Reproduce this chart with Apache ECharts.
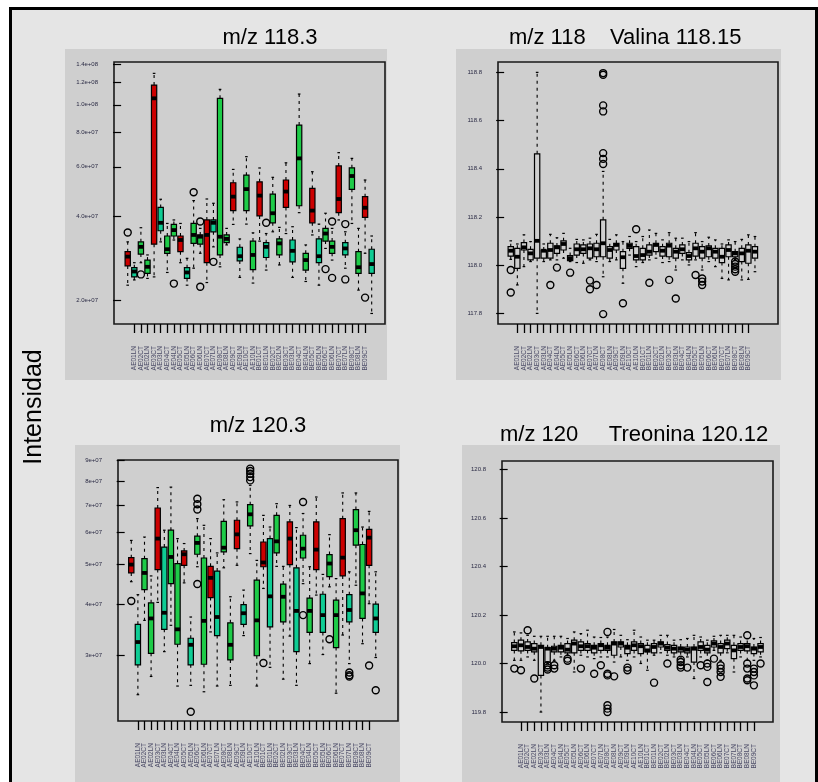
<!DOCTYPE html>
<html>
<head>
<meta charset="utf-8">
<script src="https://cdn.jsdelivr.net/npm/echarts@6/dist/echarts.min.js"></script>
<style>
html, body { margin: 0; padding: 0; background: #fff; }
#chart { width: 818px; height: 782px; }
</style>
</head>
<body>
<div id="chart"></div>
<script>
// sample names along every x axis (same 38 samples in all four panels)
const sampleLabels = [
	'AE01CT','AE01LN','AE02CT','AE02LN','AE03CT','AE03LN','AE04CT','AE04LN','AE05CT','AE05LN',
	'AE06CT','AE06LN','AE07CT','AE07LN','AE08CT','AE08LN','AE09CT','AE09LN','AE10CT','AE10LN',
	'BE01CT','BE01LN','BE02CT','BE02LN','BE03CT','BE03LN','BE04CT','BE04LN','BE05CT','BE05LN',
	'BE06CT','BE06LN','BE07CT','BE07LN','BE08CT','BE08LN','BE09CT','BE09LN'
];
// group of each sample (R = red, T = teal, G = green) for the coloured panels
const boxGroups = ['R','T','G','G','R','T','G','G','R','T','G','G','R','T','G','G','R','T','G','G',
	'R','T','G','G','R','T','G','G','R','T','G','G','R','T','G','G','R','T'];

// m/z 118.3 : [min, q1, median, q3, max]
const p1Boxes = [
	[2.26e7,2.65e7,2.86e7,2.98e7,3.23e7],[2.36e7,2.42e7,2.53e7,2.61e7,2.72e7],[2.72e7,2.92e7,3.10e7,3.23e7,3.63e7],
	[2.39e7,2.49e7,2.63e7,2.78e7,2.90e7],[2.42e7,3.17e7,1.055e8,1.177e8,1.296e8],[3.23e7,3.54e7,3.78e7,4.29e7,4.59e7],
	[2.51e7,2.94e7,3.04e7,3.39e7,3.76e7],[3.28e7,3.39e7,3.56e7,3.73e7,3.87e7],[2.72e7,2.98e7,3.28e7,3.39e7,3.76e7],
	[2.26e7,2.39e7,2.51e7,2.61e7,2.82e7],[2.60e7,3.19e7,3.42e7,3.76e7,4.54e7],[2.94e7,3.17e7,3.37e7,3.42e7,3.61e7],
	[2.31e7,2.72e7,3.42e7,3.87e7,4.60e7],[3.10e7,3.51e7,3.78e7,3.87e7,4.44e7],[2.63e7,2.90e7,3.37e7,1.055e8,1.136e8],
	[3.15e7,3.21e7,3.31e7,3.42e7,3.61e7],[3.73e7,4.18e7,4.69e7,5.26e7,5.87e7],[2.41e7,2.76e7,2.87e7,3.09e7,3.31e7],
	[3.74e7,4.18e7,4.99e7,5.60e7,6.52e7],[2.30e7,2.57e7,2.90e7,3.25e7,3.48e7],[3.25e7,4.00e7,4.73e7,5.30e7,5.94e7],
	[2.56e7,2.84e7,3.10e7,3.21e7,3.46e7],[3.51e7,3.78e7,4.09e7,4.79e7,5.50e7],[2.67e7,2.90e7,3.19e7,3.31e7,3.64e7],
	[3.46e7,4.29e7,4.89e7,5.38e7,6.20e7],[2.41e7,2.74e7,3.00e7,3.28e7,3.66e7],[4.11e7,4.35e7,6.43e7,8.46e7,1.093e8],
	[2.33e7,2.56e7,2.78e7,2.94e7,3.15e7],[3.42e7,3.78e7,4.18e7,5.02e7,5.76e7],[2.26e7,2.72e7,2.87e7,3.31e7,3.74e7],
	[3.06e7,3.25e7,3.46e7,3.61e7,4.09e7],[2.78e7,2.94e7,3.10e7,3.25e7,3.61e7],[3.87e7,4.11e7,4.60e7,6.04e7,6.74e7],
	[2.60e7,2.90e7,3.06e7,3.21e7,3.51e7],[3.76e7,4.98e7,5.56e7,5.95e7,6.43e7],[2.17e7,2.49e7,2.62e7,2.98e7,3.61e7],
	[2.94e7,3.95e7,4.28e7,4.69e7,5.38e7],[1.79e7,2.49e7,2.69e7,3.04e7,3.39e7]
];
const p1Outliers = [[1,3.49e7],[3,2.47e7],[8,2.29e7],[11,4.86e7],[12,3.82e7],[12,2.23e7],[14,2.74e7],
	[22,3.78e7],[31,2.58e7],[32,3.82e7],[32,2.40e7],[34,3.74e7],[34,2.37e7],[37,2.04e7]];
const p1Ticks = [2e7,4e7,6e7,8e7,1e8,1.2e8,1.4e8];
const p1TickLabels = ['2.0e+07','4.0e+07','6.0e+07','8.0e+07','1.0e+08','1.2e+08','1.4e+08'];

// m/z 118 Valina 118.15
const p2Boxes = [
	[118.024,118.038,118.060,118.077,118.101],[117.918,117.987,118.035,118.070,118.088],[117.994,118.063,118.074,118.094,118.126],
	[118.015,118.022,118.049,118.066,118.098],[117.800,118.029,118.101,118.462,118.800],[118.015,118.029,118.060,118.063,118.088],
	[118.022,118.029,118.063,118.091,118.128],[118.022,118.049,118.074,118.080,118.114],[118.029,118.063,118.088,118.101,118.132],
	[118.015,118.019,118.029,118.040,118.070],[118.011,118.042,118.066,118.088,118.107],[118.008,118.049,118.066,118.084,118.105],
	[118.022,118.029,118.070,118.088,118.112],[118.015,118.035,118.066,118.091,118.128],[117.952,118.035,118.091,118.188,118.389],
	[118.015,118.029,118.063,118.077,118.107],[118.022,118.063,118.084,118.091,118.126],[117.925,117.987,118.033,118.056,118.098],
	[118.042,118.070,118.080,118.091,118.119],[117.994,118.022,118.038,118.077,118.098],[118.011,118.022,118.042,118.070,118.119],
	[118.022,118.042,118.056,118.084,118.146],[118.029,118.056,118.084,118.091,118.132],[118.011,118.038,118.060,118.077,118.105],
	[118.015,118.035,118.081,118.091,118.135],[117.980,118.029,118.056,118.070,118.112],[118.022,118.049,118.066,118.084,118.112],
	[118.001,118.022,118.038,118.052,118.098],[118.022,118.038,118.070,118.091,118.135],[117.980,118.029,118.056,118.077,118.098],
	[118.015,118.035,118.070,118.080,118.116],[117.994,118.029,118.056,118.070,118.105],[117.945,118.011,118.035,118.070,118.088],
	[117.939,118.035,118.063,118.084,118.105],[118.024,118.035,118.049,118.056,118.098],[117.939,118.015,118.049,118.070,118.107],
	[117.941,118.008,118.060,118.084,118.126],[117.973,118.029,118.056,118.077,118.119]
];
const p2Outliers = [[1,117.980],[1,117.887],[7,117.918],[8,117.990],[10,117.969],[13,117.936],[13,117.900],[14,117.918],
	[15,118.797],[15,118.790],[15,118.663],[15,118.638],[15,118.465],[15,118.441],[15,118.420],[15,117.797],
	[18,117.842],[20,118.149],[22,117.927],[25,117.939],[26,117.862],[29,117.959],[30,117.945],[30,117.932],[30,117.918],
	[35,118.015],[35,118.005],[35,117.994],[35,117.983],[35,117.973]];
const p2Ticks = [117.8,118.0,118.2,118.4,118.6,118.8];

// m/z 120.3
const p3Boxes = [
	[4.54e7,4.77e7,5.00e7,5.20e7,5.73e7],[2.40e7,2.84e7,3.23e7,3.57e7,4.22e7],[3.65e7,4.34e7,4.77e7,5.17e7,5.84e7],
	[2.66e7,3.03e7,3.69e7,4.03e7,4.69e7],[4.04e7,4.86e7,5.79e7,6.88e7,7.72e7],[3.06e7,3.47e7,3.81e7,5.52e7,6.07e7],
	[3.55e7,4.49e7,5.22e7,6.07e7,7.74e7],[2.52e7,3.19e7,3.47e7,5.03e7,5.79e7],[4.51e7,4.98e7,5.30e7,5.40e7,5.63e7],
	[2.53e7,2.84e7,3.18e7,3.30e7,3.72e7],[4.94e7,5.30e7,5.65e7,5.87e7,6.48e7],[2.44e7,2.85e7,3.64e7,5.19e7,6.24e7],
	[3.42e7,4.15e7,4.64e7,4.95e7,5.79e7],[2.52e7,3.35e7,3.72e7,4.82e7,5.34e7],[4.91e7,5.37e7,5.50e7,6.38e7,7.21e7],
	[2.53e7,2.92e7,3.18e7,3.60e7,4.17e7],[4.98e7,5.47e7,5.93e7,6.42e7,7.12e7],[3.35e7,3.57e7,3.80e7,3.99e7,4.33e7],
	[5.32e7,6.22e7,6.64e7,7.01e7,7.82e7],[2.52e7,2.99e7,3.65e7,4.58e7,5.12e7],[4.37e7,4.94e7,5.06e7,5.68e7,6.60e7],
	[2.80e7,3.52e7,4.18e7,5.79e7,6.18e7],[4.95e7,5.34e7,5.70e7,6.60e7,7.05e7],[2.62e7,3.62e7,4.17e7,4.48e7,4.95e7],
	[3.34e7,5.00e7,5.79e7,6.36e7,6.98e7],[2.53e7,3.06e7,3.85e7,4.91e7,6.16e7],[4.49e7,5.19e7,5.47e7,5.90e7,6.67e7],
	[2.86e7,3.41e7,3.85e7,4.14e7,4.94e7],[4.21e7,4.86e7,5.44e7,6.36e7,7.32e7],[3.01e7,3.41e7,3.76e7,4.23e7,4.73e7],
	[4.41e7,4.67e7,5.03e7,5.29e7,5.92e7],[2.42e7,3.13e7,3.76e7,4.09e7,4.62e7],[3.36e7,4.69e7,5.20e7,6.48e7,7.49e7],
	[2.86e7,3.62e7,3.87e7,4.22e7,4.80e7],[4.45e7,5.58e7,6.07e7,6.82e7,7.49e7],[3.20e7,3.69e7,4.25e7,5.60e7,6.18e7],
	[4.01e7,4.98e7,5.82e7,6.10e7,6.75e7],[2.96e7,3.41e7,3.69e7,4.00e7,4.80e7]
];
const p3Outliers = [[1,4.07e7],[10,2.18e7],[11,7.25e7],[11,7.03e7],[11,6.82e7],[11,4.48e7],[19,8.59e7],[19,8.48e7],
	[19,8.35e7],[19,8.19e7],[19,8.04e7],[21,2.87e7],[27,7.12e7],[27,3.76e7],[31,3.28e7],[34,2.72e7],[34,2.68e7],
	[34,2.66e7],[37,2.83e7],[38,2.46e7]];
const p3Ticks = [3e7,4e7,5e7,6e7,7e7,8e7,9e7];
const p3TickLabels = ['3e+07','4e+07','5e+07','6e+07','7e+07','8e+07','9e+07'];

// m/z 120 Treonina 120.12
const p4Boxes = [
	[120.014,120.055,120.072,120.087,120.131],[120.014,120.053,120.076,120.097,120.127],[120.028,120.055,120.069,120.090,120.117],
	[120.014,120.049,120.062,120.083,120.113],[119.801,119.952,120.069,120.076,120.113],[120.001,120.007,120.062,120.066,120.113],
	[120.014,120.049,120.062,120.072,120.113],[120.028,120.049,120.066,120.076,120.113],[120.035,120.045,120.058,120.083,120.104],
	[119.966,120.045,120.083,120.097,120.131],[120.035,120.055,120.072,120.090,120.124],[120.028,120.055,120.072,120.083,120.138],
	[120.021,120.045,120.066,120.076,120.110],[120.028,120.055,120.076,120.083,120.108],[120.028,120.055,120.066,120.076,120.110],
	[120.007,120.035,120.083,120.090,120.141],[120.028,120.069,120.083,120.090,120.117],[120.014,120.042,120.066,120.076,120.099],
	[120.028,120.055,120.076,120.090,120.138],[120.001,120.042,120.072,120.083,120.110],[119.973,120.049,120.055,120.076,120.097],
	[120.035,120.045,120.069,120.083,120.097],[120.045,120.069,120.083,120.090,120.117],[120.035,120.055,120.066,120.079,120.117],
	[120.028,120.045,120.062,120.076,120.097],[120.028,120.049,120.062,120.069,120.099],[120.028,120.045,120.058,120.069,120.104],
	[119.939,120.007,120.062,120.069,120.117],[120.028,120.055,120.069,120.090,120.110],[120.014,120.045,120.058,120.076,120.097],
	[120.055,120.069,120.083,120.094,120.113],[120.014,120.045,120.069,120.083,120.117],[120.045,120.062,120.083,120.097,120.117],
	[119.966,120.021,120.055,120.076,120.117],[120.028,120.055,120.069,120.083,120.110],[120.014,120.053,120.072,120.083,120.104],
	[120.014,120.042,120.062,120.069,120.104],[120.028,120.049,120.069,120.083,120.108]
];
const p4Outliers = [[1,119.980],[2,119.973],[3,120.138],[4,119.939],[6,119.994],[6,119.984],[6,119.976],[7,119.994],
	[7,119.980],[9,120.021],[9,120.012],[11,119.980],[13,119.959],[14,119.994],[15,120.131],[15,119.959],[15,119.952],
	[15,119.829],[15,119.815],[15,119.801],[16,119.948],[18,119.984],[18,119.973],[22,119.922],[24,120.001],
	[26,120.017],[26,120.007],[26,119.994],[26,119.984],[27,119.984],[29,119.994],[30,120.001],[30,119.987],[30,119.925],
	[31,120.021],[32,119.994],[32,119.980],[32,119.966],[32,119.946],[36,120.117],[36,120.001],[36,119.980],
	[36,119.939],[36,119.932],[37,119.980],[37,119.966],[37,119.952],[37,119.911],[38,120.001]];
const p4Ticks = [119.8,120.0,120.2,120.4,120.6,120.8];

const groupFill = {R: '#cc0000', T: '#0fcc94', G: '#1ecb48'};
const FONT = '"Liberation Sans", Arial, Helvetica, sans-serif';
const positions = sampleLabels.map((_, k) => k + 1);

const panels = [
	{boxes: p1Boxes, outliers: p1Outliers, log: true, filled: true,
	 grid: {left: 114, top: 62, width: 271, height: 262}, xr: [-1.08, 40.02], yr: [1.641e7, 1.4234e8],
	 ticks: p1Ticks, fmt: v => p1TickLabels[p1Ticks.findIndex(t => Math.abs(Math.log10(t) - v) < 1e-6)]},
	{boxes: p2Boxes, outliers: p2Outliers, log: false, filled: false,
	 grid: {left: 498, top: 62, width: 280, height: 262}, xr: [-0.93, 41.49], yr: [117.756, 118.843],
	 ticks: p2Ticks, fmt: v => v.toFixed(1)},
	{boxes: p3Boxes, outliers: p3Outliers, log: true, filled: true,
	 grid: {left: 118, top: 460, width: 280, height: 261}, xr: [-1.01, 41.37], yr: [2.069e7, 9.02e7],
	 ticks: p3Ticks, fmt: v => p3TickLabels[p3Ticks.findIndex(t => Math.abs(Math.log10(t) - v) < 1e-6)]},
	{boxes: p4Boxes, outliers: p4Outliers, log: false, filled: false,
	 grid: {left: 502, top: 461, width: 271, height: 261}, xr: [-0.85, 39.87], yr: [119.760, 120.835],
	 ticks: p4Ticks, fmt: v => v.toFixed(1)}
];

function renderBox(filled) {
	return function (params, api) {
		const i = api.value(0);
		const pMin = api.coord([i, api.value(1)]);
		const pQ1 = api.coord([i, api.value(2)]);
		const pMed = api.coord([i, api.value(3)]);
		const pQ3 = api.coord([i, api.value(4)]);
		const pMax = api.coord([i, api.value(5)]);
		const w = api.size([0.8, 0])[0];
		const x = pMin[0];
		const cap = w * 0.25;
		const dash = {stroke: '#000', lineWidth: 1.1, lineDash: [3, 4]};
		const solid = {stroke: '#000', lineWidth: 1.2};
		const fill = filled ? groupFill[boxGroups[i - 1]] : 'rgba(0,0,0,0)';
		return {
			type: 'group',
			children: [
				{type: 'line', shape: {x1: x, y1: pQ3[1], x2: x, y2: pMax[1]}, style: dash},
				{type: 'line', shape: {x1: x, y1: pQ1[1], x2: x, y2: pMin[1]}, style: dash},
				{type: 'line', shape: {x1: x - cap, y1: pMax[1], x2: x + cap, y2: pMax[1]}, style: solid},
				{type: 'line', shape: {x1: x - cap, y1: pMin[1], x2: x + cap, y2: pMin[1]}, style: solid},
				{type: 'rect', shape: {x: x - w / 2, y: pQ3[1], width: w, height: pQ1[1] - pQ3[1]},
					style: {fill: fill, stroke: '#000', lineWidth: 1.2}},
				{type: 'line', shape: {x1: x - w / 2, y1: pMed[1], x2: x + w / 2, y2: pMed[1]},
					style: {stroke: '#000', lineWidth: 3.8}}
			]
		};
	};
}

const grids = [], xAxes = [], yAxes = [], series = [];
panels.forEach((p, gi) => {
	const tr = p.log ? Math.log10 : (v => v);
	grids.push(Object.assign({show: true, borderColor: '#1a1a1a', borderWidth: 1.6,
		backgroundColor: 'transparent', containLabel: false, outerBoundsMode: 'none'}, p.grid));
	xAxes.push({
		type: 'value', gridIndex: gi, min: p.xr[0], max: p.xr[1],
		splitLine: {show: false}, axisLine: {show: false},
		axisTick: {show: true, customValues: positions, length: 9, lineStyle: {color: '#000', width: 1.3}},
		axisLabel: {show: true, customValues: positions, interval: 0, hideOverlap: false,
			rotate: 90, fontSize: 6.5, margin: 22,
			fontFamily: FONT, color: '#4a4a66', formatter: v => sampleLabels[Math.round(v) - 1]}
	});
	yAxes.push({
		type: 'value', gridIndex: gi, min: tr(p.yr[0]), max: tr(p.yr[1]),
		splitLine: {show: false}, axisLine: {show: false},
		axisTick: {show: true, customValues: p.ticks.map(tr), length: 8, lineStyle: {color: '#000', width: 1.2}},
		axisLabel: {show: true, customValues: p.ticks.map(tr), interval: 0, hideOverlap: false,
			fontSize: 6, margin: 16, fontFamily: FONT, color: '#2a2a44', formatter: p.fmt}
	});
	series.push({
		type: 'custom', xAxisIndex: gi, yAxisIndex: gi, silent: true,
		renderItem: renderBox(p.filled),
		encode: {x: 0, y: [1, 2, 3, 4, 5]},
		data: p.boxes.map((b, k) => [k + 1].concat(b.map(tr)))
	});
	series.push({
		type: 'scatter', xAxisIndex: gi, yAxisIndex: gi, silent: true,
		symbol: 'circle', symbolSize: 7,
		itemStyle: {color: 'rgba(0,0,0,0)', borderColor: '#000', borderWidth: 1.4, opacity: 1},
		data: p.outliers.map(o => [o[0], tr(o[1])])
	});
});

const titleText = (text, x, y, align) => ({
	type: 'text', x: x, y: y, z: 50,
	style: {text: text, font: '22px ' + FONT, fill: '#000',
		textAlign: align, align: align, textVerticalAlign: 'middle', verticalAlign: 'middle'}
});

const chart = echarts.init(document.getElementById('chart'), null, {renderer: 'canvas'});
chart.setOption({
	animation: false,
	backgroundColor: '#ffffff',
	graphic: [
		{type: 'rect', z: -100, shape: {x: 10.5, y: 8.5, width: 806, height: 800},
			style: {fill: '#e5e5e5', stroke: '#000', lineWidth: 3}},
		{type: 'rect', z: -90, shape: {x: 65, y: 49, width: 322, height: 331}, style: {fill: '#cfcfcf'}},
		{type: 'rect', z: -90, shape: {x: 456, y: 49, width: 325, height: 331}, style: {fill: '#cfcfcf'}},
		{type: 'rect', z: -90, shape: {x: 75, y: 445, width: 325, height: 340}, style: {fill: '#cfcfcf'}},
		{type: 'rect', z: -90, shape: {x: 462, y: 445, width: 318, height: 340}, style: {fill: '#cfcfcf'}},
		titleText('m/z 118.3', 270, 38, 'center'),
		titleText('m/z 118    Valina 118.15', 509, 38, 'left'),
		titleText('m/z 120.3', 258, 426, 'center'),
		titleText('m/z 120     Treonina 120.12', 500, 435, 'left'),
		{type: 'text', x: 34, y: 407, z: 50, rotation: Math.PI / 2,
			style: {text: 'Intensidad', font: '25px ' + FONT, fill: '#000',
				textAlign: 'center', align: 'center', textVerticalAlign: 'middle', verticalAlign: 'middle'}}
	],
	grid: grids,
	xAxis: xAxes,
	yAxis: yAxes,
	series: series
});
</script>
</body>
</html>
